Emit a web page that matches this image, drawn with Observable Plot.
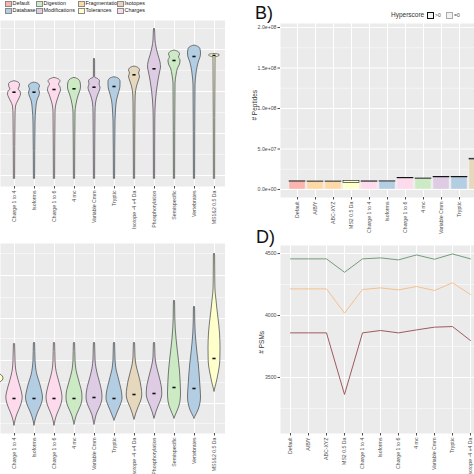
<!DOCTYPE html>
<html><head><meta charset="utf-8">
<script src="https://cdn.jsdelivr.net/npm/d3@7"></script>
<script src="https://cdn.jsdelivr.net/npm/@observablehq/plot@0.6"></script>
<style>
html,body{margin:0;padding:0;background:#fff;}
#root{position:relative;width:474px;height:474px;overflow:hidden;font-family:"Liberation Sans",Arial,sans-serif;color:#222;}
#root svg{max-width:none;}
.t{position:absolute;white-space:nowrap;}
.sw{position:absolute;box-sizing:border-box;}
</style></head><body><div id="root"></div>
<script>
// ---------- legend groups ----------
const groupNames = ["Default","Database","Digestion","Modifications","Fragmentation","Tolerances","Isotopes","Charges"];
const groupColors = ["#FBB4AE","#B3CDE3","#CCEBC5","#DECBE4","#FED9A6","#FFFFCC","#E5D8BD","#FDDAEC"];

// ---------- panels A and C: settings ----------
const catsLeft = ["Charge 1 to 4","Isoforms","Charge 1 to 6","4 mc","Variable Cmm","Tryptic","Isotope -4 +4 Da","Phosphorylation","Semispecific","Vertebrates","MS1&2 0.5 Da"];
const groupsLeft = ["Charges","Database","Charges","Digestion","Modifications","Database","Isotopes","Modifications","Digestion","Database","Tolerances"];

// violin profiles [value, relative half width], panel A
const A_ch14 = [[8,0.06],[71,0.1],[80,0.15],[85,0.35],[89,0.55],[92,0.65],[95,0.6],[97,0.4],[99,0.5],[102,0.55],[104,0.4],[105.3,0]];
const A_iso  = [[8,0.06],[63,0.1],[78,0.18],[86,0.3],[91,0.5],[94,0.55],[97,0.45],[100,0.55],[102.5,0.4],[104,0]];
const A_ch16 = [[8,0.06],[74,0.1],[80,0.15],[86,0.3],[92,0.5],[96,0.65],[99,0.6],[102,0.45],[105,0.6],[107,0.45],[108.7,0]];
const A_mc4  = [[8,0.06],[74,0.1],[81,0.18],[87,0.3],[92,0.45],[96,0.6],[100,0.65],[104,0.6],[107,0.4],[108.7,0]];
const A_vcmm = [[8,0.06],[74,0.1],[83,0.15],[91,0.35],[96,0.55],[99,0.6],[102,0.5],[105,0.55],[107.5,0.35],[109,0.06],[126,0.06],[128,0]];
const A_tryp = [[8,0.06],[66,0.1],[76,0.15],[86,0.25],[92,0.4],[97,0.55],[101,0.6],[105,0.6],[108,0.4],[109.3,0]];
const A_isot = [[8,0.06],[84,0.1],[91,0.12],[100,0.25],[106,0.45],[110,0.55],[113,0.45],[116,0.55],[118.5,0.4],[120,0]];
const A_phos = [[8,0.06],[68,0.08],[86,0.15],[96,0.25],[106,0.4],[114,0.55],[119,0.65],[124,0.6],[131,0.4],[139,0.2],[146,0.1],[156,0.06],[158,0]];
const A_semi = [[8,0.06],[103,0.1],[111,0.2],[118,0.35],[122,0.55],[126,0.6],[129,0.45],[132,0.55],[134.5,0.4],[136,0]];
const A_vert = [[8,0.06],[101,0.1],[111,0.18],[119,0.3],[125,0.45],[129,0.6],[133,0.65],[137,0.6],[139.5,0.4],[141,0]];
const A_ms12 = [[8,0.06],[129,0.1],[130,0.4],[131,0.55],[132,0.4],[132.5,0]];
const mediansA = [94.3,94.3,97,97.7,99.3,100,111.7,117.7,126,130,131];
const gridMajorA = [11,53,95,137];
const gridMinorA = [32,74,116,158];

// violin profiles, panel C (first one is the cut-off "MS2 0.5 Da")
const C_ms2  = [[48,0],[51,0.6],[55,0.9],[59,0.6],[62,0]];
const C_ch14 = [[8,0],[12,0.08],[18,0.25],[24,0.5],[30,0.72],[36,0.82],[42,0.72],[50,0.5],[58,0.28],[65,0.15],[73,0.1],[89,0.06],[90,0]];
const C_iso  = [[8,0],[12,0.08],[18,0.25],[24,0.5],[30,0.75],[36,0.85],[42,0.75],[50,0.55],[58,0.3],[65,0.17],[73,0.1],[90,0.06],[91,0]];
const C_ch16 = [[8,0],[12,0.08],[18,0.25],[24,0.5],[30,0.72],[36,0.8],[42,0.72],[50,0.52],[58,0.3],[65,0.16],[73,0.1],[90,0.06],[91,0]];
const C_mc4  = [[9,0],[12,0.07],[17,0.2],[23,0.45],[29,0.7],[35,0.8],[40,0.78],[47,0.62],[55,0.4],[63,0.2],[73,0.1],[90,0.06],[91,0]];
const C_vcmm = [[9,0],[12,0.07],[18,0.2],[24,0.45],[30,0.7],[36,0.8],[42,0.75],[49,0.6],[57,0.38],[65,0.2],[74,0.1],[90,0.06],[91,0]];
const C_tryp = [[13,0],[15,0.08],[18,0.2],[23,0.4],[29,0.65],[35,0.8],[41,0.75],[48,0.6],[56,0.4],[64,0.2],[74,0.1],[90,0.06],[91,0]];
const C_isot = [[14,0],[16,0.07],[20,0.18],[26,0.4],[32,0.65],[38,0.78],[45,0.72],[52,0.6],[60,0.4],[68,0.2],[76,0.1],[90,0.06],[91,0]];
const C_phos = [[15,0],[17,0.07],[21,0.18],[27,0.4],[33,0.65],[39,0.78],[45,0.75],[52,0.62],[60,0.42],[68,0.22],[76,0.1],[90,0.06],[91,0]];
const C_semi = [[15,0],[17,0.08],[21,0.25],[26,0.45],[32,0.6],[40,0.65],[50,0.62],[62,0.55],[75,0.42],[85,0.3],[95,0.2],[105,0.12],[115,0.08],[131,0.06],[133,0]];
const C_vert = [[15,0],[18,0.15],[22,0.35],[28,0.55],[36,0.65],[46,0.6],[58,0.52],[70,0.42],[80,0.3],[90,0.2],[100,0.12],[110,0.08],[125,0.06],[127,0]];
const C_ms12 = [[42,0],[46,0.1],[52,0.25],[62,0.45],[72,0.58],[85,0.6],[100,0.55],[115,0.4],[125,0.28],[133,0.2],[140,0.12],[150,0.08],[178,0.06],[180,0]];
const mediansC = [35,35,35,35,36,35,39,40,46,45,75];
const gridMajorC = [30,73,115,158];
const gridMinorC = [10,51,95,136,180];

// ---------- panel B ----------
const catsB = ["Default","A/B/Y","ABC-XYZ","MS2 0.5 Da","Charge 1 to 4","Isoforms","Charge 1 to 6","4 mc","Variable Cmm","Tryptic","Isotope -4 +4 Da","Phosphorylation"];
const groupsB = ["Default","Fragmentation","Fragmentation","Tolerances","Charges","Database","Charges","Digestion","Modifications","Database","Isotopes","Modifications"];
const peptidesTotal = [10.1e6,9.9e6,9.9e6,10.5e6,10.1e6,10.1e6,14.2e6,13.6e6,15.4e6,15.4e6,38e6];
const peptidesPositive = [0.5e6,0.4e6,0.4e6,2.5e6,0.6e6,0.4e6,0.5e6,0.8e6,0.5e6,0.5e6,1.0e6];
const yTicksB = [0,5e7,1e8,1.5e8,2e8];
const yLabelsB = ["0.0e+00","5.0e+07","1.0e+08","1.5e+08","2.0e+08"];
const yMinorB = [2.5e7,7.5e7,1.25e8,1.75e8];

// ---------- panel D ----------
const catsD = catsB;
const psmGreen  = [4457,4457,4457,4349,4457,4465,4449,4489,4454,4497,4457];
const psmOrange = [4215,4215,4215,4019,4210,4223,4207,4234,4202,4264,4169];
const psmRed    = [3860,3860,3860,3363,3860,3879,3860,3884,3906,3911,3798];
const yTicksD = [3500,4000,4500];
const yMinorD = [3250,3750,4250];

// ---------- helpers ----------
const root = document.getElementById("root");
const FONT = "'Liberation Sans', Arial, sans-serif";
const AXFONT = "5.2px";
function place(el, left, top){ el.style.position="absolute"; el.style.left=left+"px"; el.style.top=top+"px"; root.appendChild(el); return el; }
function text(str, left, top, size, extra){ const d=document.createElement("div"); d.className="t"; d.textContent=str; d.style.fontSize=size+"px"; d.style.lineHeight=size+"px"; if(extra) Object.assign(d.style, extra); return place(d,left,top); }
function box(left, top, w, h, fill, border){ const d=document.createElement("div"); d.className="sw"; d.style.width=w+"px"; d.style.height=h+"px"; d.style.background=fill; d.style.border="1px solid "+border; return place(d,left,top); }

function violinPanel(profiles, groups, firstPos, medians, plotH, mb, ymax, major, minor){
  const rows = [];
  profiles.forEach((prof,k)=>{
    const p = firstPos + k;
    prof.forEach(([v,hw])=>rows.push({cat:"c"+p, group:groups[k], v, lo:p-hw/2, hi:p+hw/2}));
  });
  const med = medians.map((v,k)=>({v, p:k}));
  return Plot.plot({
    width:225, height:plotH+mb, marginLeft:0, marginRight:0, marginTop:0, marginBottom:mb,
    style:{fontFamily:FONT, fontSize:AXFONT, background:"transparent"},
    x:{domain:[-0.7,10.55]},
    y:{domain:[0,ymax], axis:null},
    color:{domain:groupNames, range:groupColors},
    marks:[
      Plot.frame({fill:"#ebebeb", stroke:"none"}),
      Plot.ruleY(minor,{stroke:"#fff", strokeWidth:0.5}),
      Plot.ruleY(major,{stroke:"#fff", strokeWidth:1}),
      Plot.ruleX(d3.range(11),{stroke:"#fff", strokeWidth:1}),
      Plot.areaX(rows,{y:"v", x1:"lo", x2:"hi", z:"cat", fill:"group", stroke:"#555", strokeWidth:0.8, curve:"monotone-y"}),
      Plot.ruleY(med,{y:"v", x1:d=>d.p-0.08, x2:d=>d.p+0.08, stroke:"#111", strokeWidth:1.6}),
      Plot.axisX({ticks:d3.range(11), tickFormat:i=>catsLeft[i], tickRotate:-90, tickSize:2.5, tickPadding:1.5, label:null, color:"#4d4d4d"})
    ]
  });
}

// ---------- panel A ----------
const violinsA = [A_ch14,A_iso,A_ch16,A_mc4,A_vcmm,A_tryp,A_isot,A_phos,A_semi,A_vert,A_ms12];
place(violinPanel(violinsA, groupsLeft, 0, mediansA, 166, 50, 166, gridMajorA, gridMinorA), 0, 20);

// ---------- panel C ----------
const violinsC = [C_ms2,C_ch14,C_iso,C_ch16,C_mc4,C_vcmm,C_tryp,C_isot,C_phos,C_semi,C_vert,C_ms12];
place(violinPanel(violinsC, ["Tolerances",...groupsLeft], -1, mediansC, 190, 45, 190, gridMajorC, gridMinorC), 0, 243);

// legend A
const legCols = [5,36,78,117];
const legRows = [0.5,7.5];
groupNames.forEach((g,i)=>{
  const c = Math.floor(i/2), r = i%2;
  box(legCols[c], legRows[r], 6.5, 6.5, groupColors[i], "#8a8a8a");
  text(g, legCols[c]+7.5, legRows[r]+0.8, 5.4, {color:"#222"});
});

// ---------- panel B ----------
const rowsB = peptidesTotal.map((t,i)=>({cat:catsB[i], group:groupsB[i], zero:t-peptidesPositive[i], total:t}));
const plotB = Plot.plot({
  width:240, height:174+37, marginLeft:40, marginRight:0, marginTop:0, marginBottom:37,
  style:{fontFamily:FONT, fontSize:AXFONT, background:"transparent"},
  x:{type:"band", domain:catsB, range:[42.55, 42.55+12*18.9], paddingInner:0.1, paddingOuter:0.05},
  y:{domain:[-0.99e7, 2.05e8]},
  color:{domain:groupNames, range:groupColors},
  marks:[
    Plot.frame({fill:"#ebebeb", stroke:"none"}),
    Plot.ruleY(yMinorB,{stroke:"#fff", strokeWidth:0.5}),
    Plot.ruleY(yTicksB,{stroke:"#fff", strokeWidth:1}),
    Plot.ruleX(catsB,{x:d=>d, stroke:"#fff", strokeWidth:1}),
    Plot.barY(rowsB,{x:"cat", y1:0, y2:"zero", fill:"group", stroke:"#fff", strokeWidth:0.3}),
    Plot.barY(rowsB,{x:"cat", y1:"zero", y2:"total", fill:"group", stroke:"#111", strokeWidth:0.6}),
    Plot.axisX({tickRotate:-90, tickSize:2.5, tickPadding:1.5, label:null, color:"#4d4d4d"}),
    Plot.axisY({ticks:yTicksB, tickFormat:d=>yLabelsB[yTicksB.indexOf(d)], tickSize:2.5, tickPadding:1.5, label:null, color:"#4d4d4d"})
  ]
});
place(plotB, 240, 23);

// ---------- panel D ----------
const linesD = [
  {vals:psmGreen, color:"#739d78"},
  {vals:psmOrange, color:"#f5c08d"},
  {vals:psmRed, color:"#9e5b5e"}
];
const plotD = Plot.plot({
  width:240, height:188+45, marginLeft:40, marginRight:0, marginTop:0, marginBottom:45,
  style:{fontFamily:FONT, fontSize:AXFONT, background:"transparent"},
  x:{type:"point", domain:catsD, range:[50,248], padding:0},
  y:{domain:[3048,4565]},
  marks:[
    Plot.frame({fill:"#ebebeb", stroke:"none"}),
    Plot.ruleY(yMinorD,{stroke:"#fff", strokeWidth:0.5}),
    Plot.ruleY(yTicksD,{stroke:"#fff", strokeWidth:1}),
    Plot.ruleX(catsD,{x:d=>d, stroke:"#fff", strokeWidth:1}),
    ...linesD.map(L=>Plot.line(L.vals,{x:(d,i)=>catsD[i], y:d=>d, stroke:L.color, strokeWidth:1})),
    Plot.axisX({tickRotate:-90, tickSize:2.5, tickPadding:1.5, label:null, color:"#4d4d4d"}),
    Plot.axisY({ticks:yTicksD, tickSize:2.5, tickPadding:1.5, label:null, color:"#4d4d4d", tickFormat:d=>String(d)})
  ]
});
place(plotD, 240, 245);

// ---------- panel labels and B legend ----------
text("B)", 255, 4, 18, {color:"#111"});
text("D)", 256, 228, 18, {color:"#111"});
text("# Peptides", 225, 102, 6.5, {width:60+"px", textAlign:"center", transform:"rotate(-90deg)", color:"#333"});
text("# PSMs", 232, 339, 6.5, {width:60+"px", textAlign:"center", transform:"rotate(-90deg)", color:"#333"});
text("Hyperscore", 391, 12, 6.5, {color:"#333"});
box(427, 11.5, 7, 7, "#f2f2f2", "#111");
text(">0", 435, 12.5, 5, {color:"#444"});
box(446, 11.5, 7, 7, "#f2f2f2", "#aaa");
text("=0", 454, 12.5, 5, {color:"#444"});
</script></body></html>
